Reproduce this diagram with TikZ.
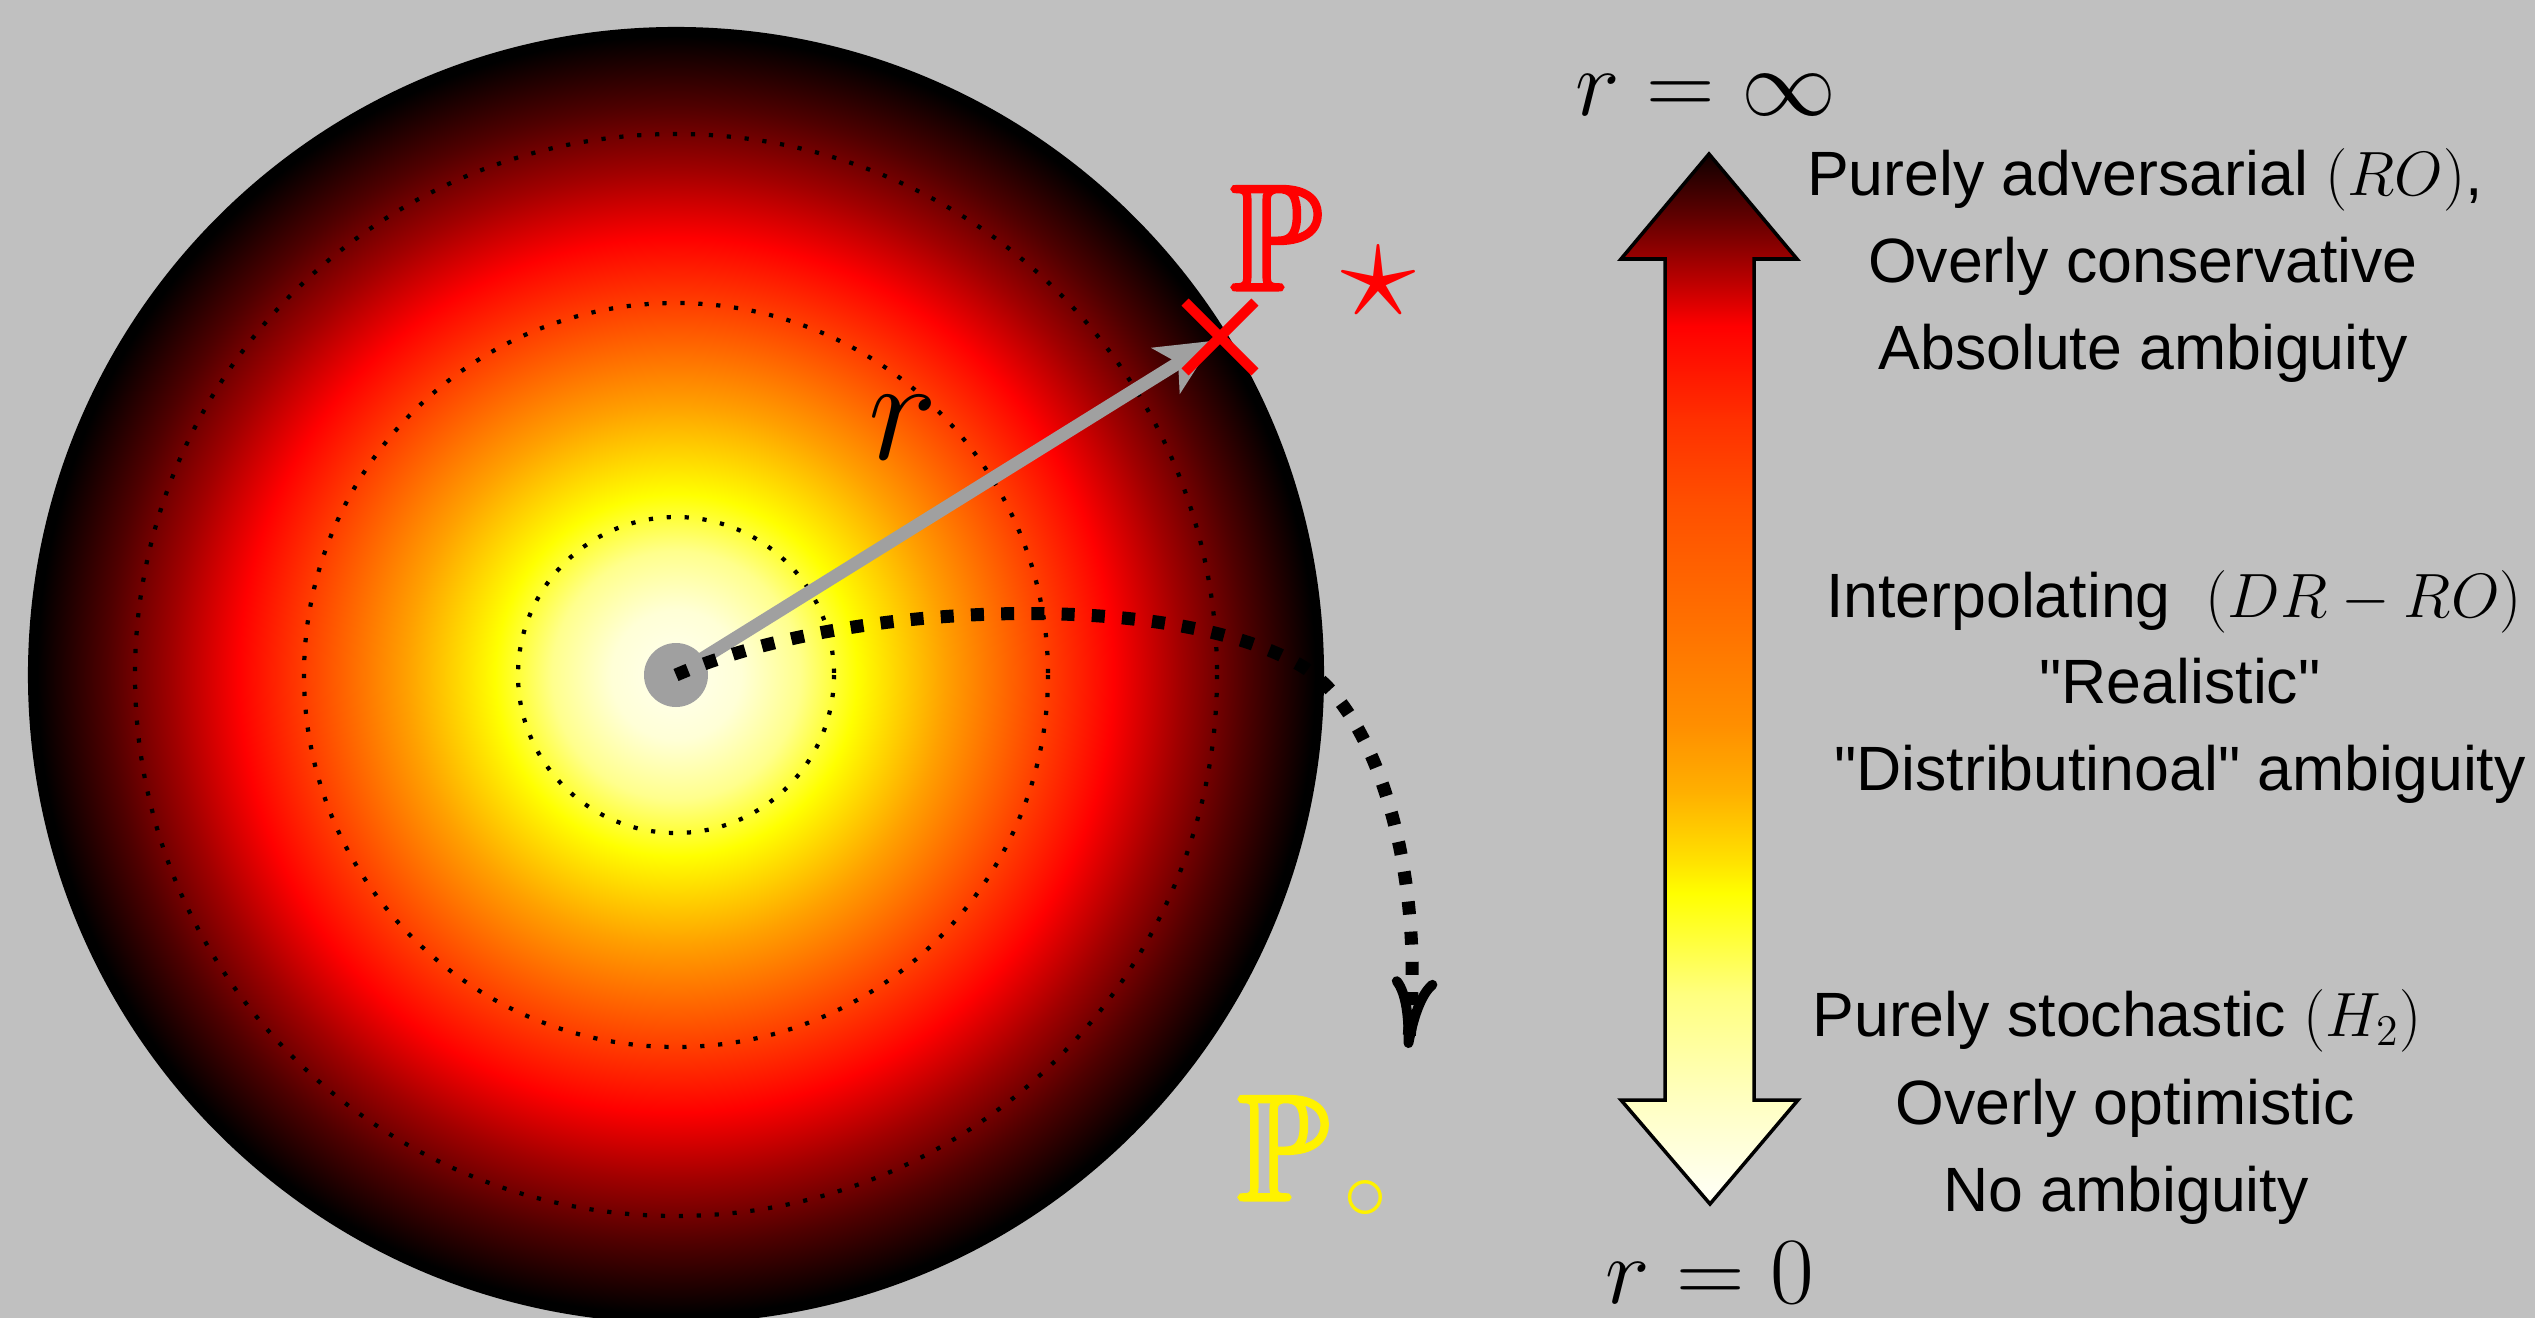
\RequirePackage{fix-cm}
\documentclass[tikz,border=0pt]{standalone}
\usepackage{amssymb}
\DeclareFontFamily{U}{msb}{}
\DeclareFontShape{U}{msb}{m}{n}{<->msbm10}{}
\usepackage{fontspec}
\newfontfamily\arialf{Liberation Sans}
\usetikzlibrary{arrows.meta,shapes.misc}
\definecolor{bg}{RGB}{192,192,192}
\definecolor{ptrgray}{RGB}{160,160,160}
\newcommand{\heavyP}{\special{pdf:literal direct 2 Tr 0.9 w}$\mathbb{P}$\special{pdf:literal direct 0 Tr}}
\pgfdeclareradialshading{ballshade}{\pgfpoint{0bp}{0bp}}{%
rgb(0bp)=(1,1,0.94);
rgb(2.5bp)=(1,1,0.84);
rgb(4.8bp)=(1,1,0.55);
rgb(7bp)=(1,1,0);
rgb(10.4bp)=(1,0.63,0);
rgb(14.3bp)=(1,0.25,0);
rgb(16.9bp)=(1,0,0);
rgb(19.5bp)=(0.63,0,0);
rgb(22bp)=(0.31,0,0);
rgb(24.7bp)=(0,0,0);
rgb(50bp)=(0,0,0)}
\pgfdeclareverticalshading{arrowshade}{100bp}{%
rgb(0bp)=(1,1,0.95);
rgb(25.6bp)=(1,1,0.95);
rgb(30.1bp)=(1,1,0.75);
rgb(35bp)=(1,1,0.5);
rgb(39.8bp)=(1,1,0);
rgb(41.4bp)=(1,0.88,0);
rgb(44.6bp)=(1,0.69,0);
rgb(47.8bp)=(1,0.56,0);
rgb(52.7bp)=(1,0.44,0);
rgb(58.4bp)=(1,0.31,0);
rgb(62.3bp)=(1,0.19,0);
rgb(66.8bp)=(1,0,0);
rgb(68.8bp)=(0.75,0,0);
rgb(72bp)=(0.38,0,0);
rgb(75bp)=(0.06,0,0);
rgb(100bp)=(0.06,0,0)}
\tikzset{
  lbl/.style={font=\arialf\fontsize{17.8}{24.75}\selectfont, anchor=base, inner sep=0pt},
  mathlbl/.style={font=\fontsize{27}{27}\selectfont, anchor=base, inner sep=0pt},
  bigP/.style={font=\fontsize{43}{43}\selectfont, anchor=base west, inner sep=0pt},
  dotring/.style={black, line width=1.2pt, dash pattern=on 1.2pt off 3.9pt},
  ptr/.style={ptrgray, line width=3.7pt, -{Stealth[length=16pt,width=15pt,inset=4pt]}, shorten >=2pt},
  dotpath/.style={black, line width=3.7pt, dash pattern=on 3.7pt off 4.9pt,
    -{Computer Modern Rightarrow[length=20pt,width=13pt,line width=2.8pt]}},
}
\begin{document}
\begin{tikzpicture}[x=0.01cm,y=-0.01cm]
\fill[bg] (0,0) rectangle (2535,1318);
\useasboundingbox (0,0) rectangle (2535,1318);
% ball
\coordinate (c) at (676,675);
\shade[shading=ballshade] (c) circle[radius=647];
\draw[black, line width=0.6pt] (c) circle[radius=647];
\draw[dotring] (c) circle[radius=158];
\draw[dotring] (c) circle[radius=372];
\draw[dotring] (c) circle[radius=541];
% pointer
\coordinate (xm) at (1220,337);
\node[circle, fill=ptrgray, minimum size=18.2pt, inner sep=0pt] (dot) at (c) {};
\draw[ptr] (dot.center) -- (xm);
\coordinate (pend) at (1408,1048);
\draw[dotpath] (dot.center) .. controls (850,600) and (1170,590) .. (1300,665)
   .. controls (1380,711) and (1425,880) .. (pend);
\node[cross out, draw=red, line width=2.85pt, minimum size=17pt, inner sep=0pt] (xmark) at (xm) {};
\node[font=\fontsize{42}{42}\selectfont] (rlab) at (903,428) {$r$};
\node[bigP, text=red] (pstar) at (1229,290) {\heavyP\kern5.5pt\raisebox{-7.7pt}{$\star$}};
\node[bigP, text=yellow] (pcirc) at (1236,1200) {\heavyP\kern4pt\raisebox{-5.4pt}{\fontsize{25}{25}\selectfont$\circ$}};
% double arrow
\shadedraw[shading=arrowshade, draw=black, line width=1pt, line join=miter]
  (1709,154) -- (1797,259) -- (1754,259) -- (1754,1100) -- (1798,1100) -- (1710,1204)
  -- (1621,1100) -- (1665,1100) -- (1665,259) -- (1621,259) -- cycle;
\node[mathlbl] (rinf) at (1706,116) {$r=\infty$};
\node[mathlbl] (rzero) at (1710,1303) {$r=0$};
% texts
\node[lbl] (t1) at (2145,195) {Purely adversarial $(RO)$,};
\node[lbl] (t2) at (2143,282) {Overly conservative};
\node[lbl] (t3) at (2143,369) {Absolute ambiguity};
\node[lbl] (m1) at (2174,617) {Interpolating\ \ $(DR-RO)$};
\node[lbl] (m2) at (2180,703) {"Realistic"};
\node[lbl] (m3) at (2180,790) {"Distributinoal" ambiguity};
\node[lbl] (b1) at (2117,1036) {Purely stochastic $(H_2)$};
\node[lbl] (b2) at (2125,1124) {Overly optimistic};
\node[lbl] (b3) at (2126,1211) {No ambiguity};
\end{tikzpicture}
\end{document}
